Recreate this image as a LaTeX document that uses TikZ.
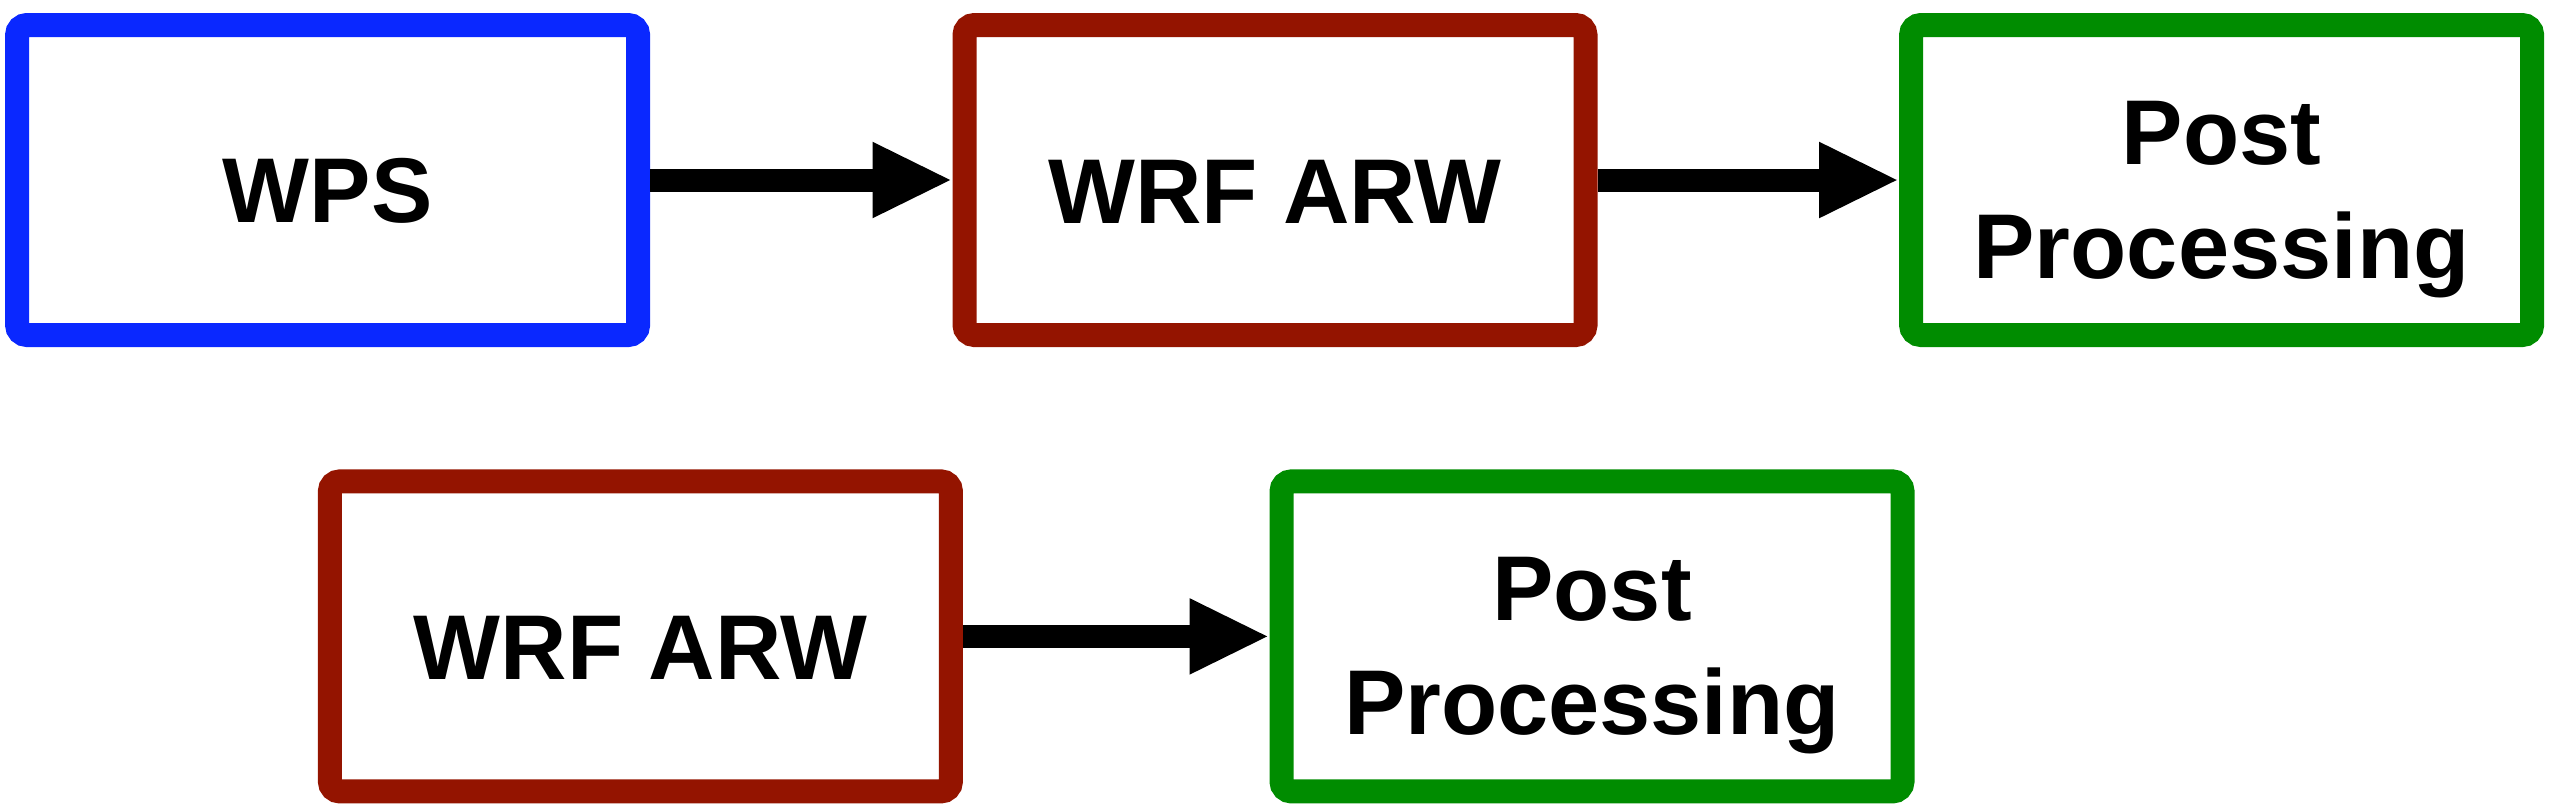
\documentclass[tikz,border=0pt]{standalone}
\usepackage{fontspec}
\setmainfont{Liberation Sans}
\usepackage{xcolor}
\usetikzlibrary{arrows.meta}

\definecolor{wpsblue}{RGB}{10,40,255}
\definecolor{wrfred}{RGB}{148,20,0}
\definecolor{postgreen}{RGB}{0,140,0}

% strut that pushes the label a little below the middle
\newcommand{\dropstrut}[1]{\rule{0pt}{#1}}

\tikzset{
  stage/.style={draw, line width=6pt, rounded corners=2.5pt, fill=white,
    minimum width=155.25pt, minimum height=77.5pt, align=center,
    font=\bfseries\fontsize{23}{28.5}\selectfont},
  flow/.style={line width=5.75pt, -{Triangle[length=20pt,width=17.5pt]}}
}

\begin{document}
\begin{tikzpicture}
  \useasboundingbox (0,0) rectangle (638pt,-201.5pt);

  % full chain
  \node[stage, draw=wpsblue] (wps) at (81.9pt,-45pt) {\dropstrut{21.5pt}WPS};
  \node[stage, draw=wrfred] (wrf) at (318.75pt,-45pt) {\dropstrut{21.5pt}WRF ARW};
  \node[stage, draw=postgreen] (post) at (555.4pt,-45pt) {\dropstrut{25.5pt}Post\\Processing};

  % chain without WPS
  \node[stage, draw=wrfred] (wrfB) at (160.1pt,-159.1pt) {\dropstrut{21.5pt}WRF ARW};
  \node[stage, draw=postgreen] (postB) at (398pt,-159.1pt) {\dropstrut{25.5pt}Post\\Processing};

  % arrows
  \draw[flow] (wps) -- (wrf);
  \draw[flow] (wrf) -- (post);
  \draw[flow] (wrfB) -- (postB);
\end{tikzpicture}
\end{document}
